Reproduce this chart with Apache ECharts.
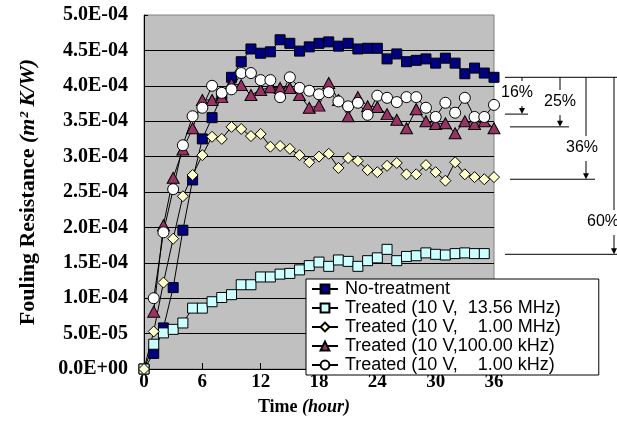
<!DOCTYPE html>
<html>
<head>
<meta charset="utf-8">
<script src="https://cdn.jsdelivr.net/npm/echarts@6/dist/echarts.min.js"></script>
<title>Fouling resistance</title>
</head>
<body style="margin:0;background:#fff">
<div id="main" style="width:617px;height:445px"></div>
<script>
// hours of operation
const hours = [0,1,2,3,4,5,6,7,8,9,10,11,12,13,14,15,16,17,18,19,20,21,22,23,24,25,26,27,28,29,30,31,32,33,34,35,36];

// fouling resistance, m2K/W
const noTreat = [0,0.22e-4,0.58e-4,1.15e-4,1.96e-4,2.67e-4,3.25e-4,3.55e-4,3.86e-4,4.12e-4,4.34e-4,4.52e-4,4.46e-4,4.48e-4,4.65e-4,4.60e-4,4.49e-4,4.55e-4,4.60e-4,4.62e-4,4.56e-4,4.60e-4,4.52e-4,4.53e-4,4.53e-4,4.38e-4,4.45e-4,4.34e-4,4.36e-4,4.38e-4,4.32e-4,4.39e-4,4.32e-4,4.17e-4,4.25e-4,4.18e-4,4.12e-4];
const t1356MHz = [0,0.35e-4,0.51e-4,0.56e-4,0.65e-4,0.86e-4,0.86e-4,0.95e-4,1.01e-4,1.05e-4,1.19e-4,1.19e-4,1.30e-4,1.30e-4,1.34e-4,1.35e-4,1.40e-4,1.46e-4,1.51e-4,1.45e-4,1.54e-4,1.52e-4,1.45e-4,1.53e-4,1.57e-4,1.69e-4,1.53e-4,1.59e-4,1.60e-4,1.64e-4,1.62e-4,1.61e-4,1.63e-4,1.64e-4,1.63e-4,1.63e-4];
const t1MHz = [0,0.53e-4,1.22e-4,1.84e-4,2.44e-4,2.74e-4,3.02e-4,3.28e-4,3.25e-4,3.42e-4,3.39e-4,3.29e-4,3.32e-4,3.14e-4,3.15e-4,3.11e-4,3.02e-4,2.92e-4,3.00e-4,3.04e-4,2.84e-4,2.98e-4,2.94e-4,2.81e-4,2.78e-4,2.87e-4,2.91e-4,2.75e-4,2.75e-4,2.88e-4,2.78e-4,2.66e-4,2.92e-4,2.75e-4,2.71e-4,2.68e-4,2.71e-4];
const t100kHz = [null,0.81e-4,2.03e-4,2.70e-4,3.10e-4,3.40e-4,3.80e-4,3.80e-4,3.84e-4,4.03e-4,4.01e-4,3.87e-4,3.94e-4,3.98e-4,3.97e-4,3.97e-4,3.87e-4,3.69e-4,3.72e-4,4.04e-4,3.80e-4,3.57e-4,3.84e-4,3.71e-4,3.70e-4,3.60e-4,3.52e-4,3.40e-4,3.67e-4,3.50e-4,3.46e-4,3.47e-4,3.33e-4,3.50e-4,3.46e-4,3.50e-4,3.40e-4];
const t1kHz = [null,1.00e-4,1.93e-4,2.54e-4,3.16e-4,3.57e-4,3.69e-4,4.00e-4,3.90e-4,3.95e-4,4.18e-4,4.18e-4,4.08e-4,4.08e-4,3.84e-4,4.12e-4,3.97e-4,3.93e-4,3.88e-4,3.91e-4,3.78e-4,3.71e-4,3.76e-4,3.59e-4,3.86e-4,3.83e-4,3.77e-4,3.84e-4,3.84e-4,3.69e-4,3.56e-4,3.76e-4,3.62e-4,3.83e-4,3.56e-4,3.56e-4,3.73e-4];

const names = ['No-treatment','Treated (10 V,  13.56 MHz)','Treated (10 V,   1.00 MHz)','Treated (10 V,100.00 kHz)','Treated (10 V,   1.00 kHz)'];

// reduction marks on the right
const topLevel = 4.12e-4;
const reductionLevels = [3.60e-4, 3.42e-4, 2.68e-4, 1.62e-4];
const reductionLabels = ['16%','25%','36%','60%'];

const SERIF = "'Liberation Serif','Times New Roman',serif";
const SANS = "'Liberation Sans',Arial,sans-serif";

function pairs(ys) {
  const out = [];
  ys.forEach((y, i) => { if (y !== null) out.push([hours[i], y]); });
  return out;
}

function sci(v) {
  if (Math.abs(v) < 1e-12) return '0.0E+00';
  const e = Math.floor(Math.log10(v) + 1e-9);
  const m = v / Math.pow(10, e);
  return m.toFixed(1) + 'E' + (e < 0 ? '-' : '+') + String(Math.abs(e)).padStart(2, '0');
}

function mk(name, data, symbol, size, color) {
  return {
    name: name, type: 'line', data: pairs(data),
    symbol: symbol, symbolSize: size,
    lineStyle: {color: '#000', width: 1},
    itemStyle: {color: color, borderColor: '#000', borderWidth: 1},
    emphasis: {disabled: true}
  };
}

const chart = echarts.init(document.getElementById('main'));
chart.setOption({
  animation: false,
  grid: {left: 144, right: 123, top: 15, bottom: 76, show: true,
         backgroundColor: '#C0C0C0', borderColor: '#808080', borderWidth: 1},
  legend: {
    orient: 'vertical', left: 306, top: 279,
    backgroundColor: '#fff', borderColor: '#000', borderWidth: 1,
    padding: [1, 38, 1, 5], itemGap: 1, itemWidth: 26, itemHeight: 11,
    textStyle: {fontFamily: SANS, fontSize: 18, color: '#000', padding: [0, 0, 0, 2]},
    formatter: function (name) {
      // right-align the frequency with figure spaces, like the original
      const m = name.match(/^(Treated \(10 V,)\s*([\d.]+)( .*)$/);
      if (!m) return name;
      return m[1] + '\u2007'.repeat(6 - m[2].length) + m[2] + m[3];
    },
    data: names
  },
  xAxis: {
    type: 'value', min: 0, max: 36, interval: 6,
    name: 'Time {it|(hour)}', nameLocation: 'middle', nameGap: 29,
    nameTextStyle: {fontFamily: SERIF, fontWeight: 'bold', fontSize: 18, color: '#000', padding: [0, 30, 0, 0],
      rich: {it: {fontFamily: SERIF, fontStyle: 'italic', fontSize: 18, color: '#000'}}},
    axisLine: {lineStyle: {color: '#000'}},
    axisTick: {inside: true, length: 6, lineStyle: {color: '#000'}},
    axisLabel: {fontFamily: SERIF, fontWeight: 'bold', fontSize: 19, color: '#000', margin: 4},
    splitLine: {show: false}
  },
  yAxis: {
    type: 'value', min: 0, max: 5e-4, interval: 5e-5,
    name: 'Fouling Resistance {it|(m² K/W)}', nameLocation: 'middle', nameGap: 105, nameRotate: 90,
    nameTextStyle: {fontFamily: SERIF, fontWeight: 'bold', fontSize: 22, color: '#000',
      rich: {it: {fontFamily: SERIF, fontStyle: 'italic', fontSize: 22, color: '#000'}}},
    axisLine: {show: true, lineStyle: {color: '#000'}},
    axisTick: {show: true, inside: true, length: 4, lineStyle: {color: '#000'}},
    axisLabel: {fontFamily: SERIF, fontWeight: 'bold', fontSize: 20, color: '#000', margin: 16, formatter: sci},
    splitLine: {show: true, showMaxLine: false, lineStyle: {color: '#000', width: 1}}
  },
  series: [
    mk(names[0], noTreat, 'rect', 10, '#000080'),
    mk(names[1], t1356MHz, 'rect', 10, '#CCFFFF'),
    mk(names[2], t1MHz, 'diamond', 11, '#FFFFCC'),
    mk(names[3], t100kHz, 'triangle', [12, 11], '#993366'),
    mk(names[4], t1kHz, 'circle', 11, '#FFFFFF')
  ]
});

// reduction brackets, placed from the value axis
const py = v => chart.convertToPixel({yAxisIndex: 0}, v);
const yTop = py(topLevel);
const vx = [522, 560, 586, 614];
const textY = [93, 102, 148, 222];
const textX = [517, 560, 582, 603];
const hx = [[505, 528], [510, 569], [510, 595], [505, 617]];
const g = [];
const ln = (x1, y1, x2, y2) => ({type: 'line', z: 100, shape: {x1, y1, x2, y2}, style: {stroke: '#000', lineWidth: 1}});
g.push(ln(505, yTop, 617, yTop));
reductionLevels.forEach((lv, i) => {
  const yl = py(lv);
  g.push(ln(hx[i][0], yl, hx[i][1], yl));
  g.push(ln(vx[i], yTop, vx[i], textY[i] - 12));
  g.push(ln(vx[i], textY[i] + 13, vx[i], yl - 5));
  g.push({type: 'polygon', z: 100, shape: {points: [[vx[i] - 3, yl - 6], [vx[i] + 3, yl - 6], [vx[i], yl]]}, style: {fill: '#000'}});
  g.push({type: 'text', z: 100, x: textX[i], y: textY[i],
    style: {text: reductionLabels[i], fill: '#000', font: '16px ' + SANS, align: 'center', verticalAlign: 'middle'}});
});
chart.setOption({graphic: g});
</script>
</body>
</html>
